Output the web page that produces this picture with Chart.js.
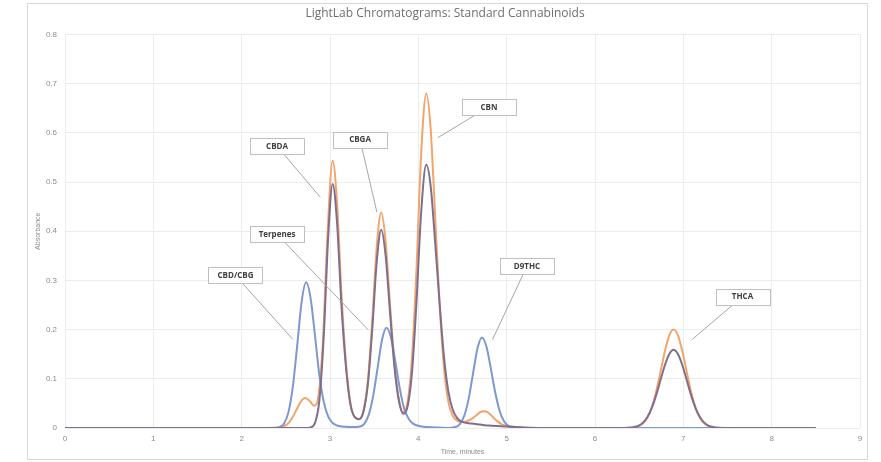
<!DOCTYPE html>
<html>
<head>
<meta charset="utf-8">
<script src="https://cdn.jsdelivr.net/npm/chart.js@4"></script>
<style>
  html, body { margin: 0; padding: 0; background: #fff; }
  #wrap { width: 881px; height: 462px; }
</style>
</head>
<body>
<div id="wrap"><canvas id="grafico"></canvas></div>
<script>
const blueTimes = [0, 2.3, 2.38, 2.43, 2.48, 2.53, 2.58, 2.63, 2.68, 2.73, 2.78, 2.83, 2.88, 2.93, 2.98, 3.03, 3.08, 3.13, 3.23, 3.29,
  3.34, 3.39, 3.44, 3.49, 3.54, 3.59, 3.64, 3.69, 3.74, 3.79, 3.84, 3.89, 3.94, 4.04, 4.2, 4.32, 4.42, 4.47, 4.52, 4.57,
  4.62, 4.67, 4.72, 4.77, 4.82, 4.87, 4.92, 4.97, 5.02, 5.12, 5.3, 8.5];
const blueValues = [0, 0, 0.0003, 0.002, 0.0093, 0.0323, 0.085, 0.170, 0.258, 0.296, 0.264, 0.188, 0.107, 0.053, 0.023, 0.010, 0.005, 0.003, 0.002, 0.002,
  0.003, 0.009, 0.0276, 0.0662, 0.1237, 0.180, 0.204, 0.184, 0.135, 0.0806, 0.039, 0.019, 0.009, 0.003, 0.001, 0.0002, 0.002, 0.0081, 0.0249, 0.0597,
  0.1116, 0.162, 0.184, 0.166, 0.1216, 0.0727, 0.0351, 0.0139, 0.0045, 0.0004, 0, 0];

const grayTimes = [0, 2.7, 2.78, 2.83, 2.88, 2.93, 2.98, 3.03, 3.08, 3.13, 3.18, 3.23, 3.28, 3.33, 3.38, 3.43, 3.48, 3.53, 3.58, 3.63,
  3.68, 3.73, 3.78, 3.83, 3.88, 3.93, 3.98, 4.03, 4.09, 4.14, 4.19, 4.24, 4.29, 4.34, 4.39, 4.44, 4.49, 4.6, 4.7, 4.8,
  5.0, 5.2, 5.4, 6.29, 6.39, 6.44, 6.49, 6.54, 6.59, 6.64, 6.69, 6.74, 6.79, 6.84, 6.89, 6.94, 6.99, 7.04, 7.09, 7.14,
  7.19, 7.24, 7.29, 7.34, 7.39, 7.49, 8.5];
const grayValues = [0, 0, 0.0012, 0.0104, 0.0565, 0.189, 0.39, 0.496, 0.417, 0.248, 0.125, 0.049, 0.022, 0.018, 0.034, 0.091, 0.205, 0.34, 0.403, 0.35,
  0.234, 0.123, 0.055, 0.029, 0.045, 0.117, 0.259, 0.433, 0.535, 0.491, 0.378, 0.255, 0.145, 0.074, 0.037, 0.020, 0.013, 0.009, 0.007, 0.005,
  0.003, 0.001, 0, 0, 0.0006, 0.0018, 0.0045, 0.0104, 0.0215, 0.0396, 0.0653, 0.0964, 0.127, 0.150, 0.159, 0.150, 0.127, 0.0964, 0.0653, 0.0396,
  0.0215, 0.0104, 0.0045, 0.0018, 0.0006, 0, 0];

const orangeTimes = [0, 2.3, 2.42, 2.52, 2.57, 2.62, 2.67, 2.72, 2.77, 2.82, 2.87, 2.92, 2.97, 3.03, 3.08, 3.13, 3.18, 3.23, 3.28, 3.33,
  3.38, 3.43, 3.48, 3.53, 3.58, 3.63, 3.68, 3.73, 3.78, 3.83, 3.88, 3.93, 3.98, 4.03, 4.09, 4.14, 4.19, 4.24, 4.29, 4.34,
  4.39, 4.44, 4.49, 4.55, 4.6, 4.65, 4.7, 4.75, 4.8, 4.85, 4.9, 4.95, 5.0, 5.1, 5.3, 6.29, 6.39, 6.44, 6.49, 6.54,
  6.59, 6.64, 6.69, 6.74, 6.79, 6.84, 6.89, 6.94, 6.99, 7.04, 7.09, 7.14, 7.19, 7.24, 7.29, 7.34, 7.39, 7.49, 8.5];
const orangeValues = [0, 0, 0.0007, 0.0083, 0.0198, 0.037, 0.0538, 0.061, 0.055, 0.045, 0.066, 0.177, 0.387, 0.543, 0.457, 0.272, 0.135, 0.052, 0.022, 0.018,
  0.036, 0.099, 0.223, 0.37, 0.438, 0.379, 0.250, 0.133, 0.058, 0.032, 0.055, 0.146, 0.327, 0.55, 0.68, 0.607, 0.432, 0.255, 0.123, 0.053,
  0.025, 0.015, 0.012, 0.014, 0.018, 0.025, 0.032, 0.034, 0.030, 0.021, 0.013, 0.0068, 0.0042, 0.002, 0, 0, 0.0003, 0.0011, 0.0034, 0.0088,
  0.0201, 0.0406, 0.072, 0.1126, 0.155, 0.1876, 0.2, 0.1876, 0.155, 0.1126, 0.072, 0.0406, 0.0201, 0.0088, 0.0034, 0.0011, 0.0003, 0, 0];

const peakNames = ['CBD/CBG', 'CBDA', 'Terpenes', 'CBGA', 'CBN', 'D9THC', 'THCA'];

// posição das caixas (centro) e ponta da linha, em coordenadas de dados
const calloutBox = [[1.93, 0.31], [2.40, 0.573], [2.40, 0.394], [3.34, 0.586], [4.80, 0.653], [5.23, 0.329], [7.67, 0.267]];
const calloutTip = [[2.58, 0.18], [2.89, 0.469], [3.43, 0.20], [3.53, 0.439], [4.22, 0.590], [4.84, 0.18], [7.10, 0.18]];

function pares(ts, vs) {
  return ts.map((t, i) => ({ x: t, y: vs[i] }));
}

const calloutPlugin = {
  id: 'callouts',
  beforeDraw(chart) {
    const ctx = chart.ctx;
    ctx.save();
    ctx.fillStyle = '#ffffff';
    ctx.fillRect(0, 0, chart.width, chart.height);
    ctx.strokeStyle = '#d9d9d9';
    ctx.lineWidth = 1;
    ctx.strokeRect(27.5, 3.5, 840, 456);
    ctx.restore();
  },
  afterDatasetsDraw(chart) {
    const ctx = chart.ctx;
    const xs = chart.scales.x, ys = chart.scales.y;
    ctx.save();
    peakNames.forEach((nome, i) => {
      const bx = xs.getPixelForValue(calloutBox[i][0]);
      const by = ys.getPixelForValue(calloutBox[i][1]);
      const tx = xs.getPixelForValue(calloutTip[i][0]);
      const ty = ys.getPixelForValue(calloutTip[i][1]);
      ctx.strokeStyle = '#a6a6a6';
      ctx.lineWidth = 1;
      ctx.beginPath();
      ctx.moveTo(bx, by);
      ctx.lineTo(tx, ty);
      ctx.stroke();
      const w = 54, h = 16;
      ctx.fillStyle = '#ffffff';
      ctx.fillRect(Math.round(bx - w / 2) + 0.5, Math.round(by - h / 2) + 0.5, w, h);
      ctx.strokeStyle = '#bfbfbf';
      ctx.strokeRect(Math.round(bx - w / 2) + 0.5, Math.round(by - h / 2) + 0.5, w, h);
      ctx.fillStyle = '#404040';
      ctx.font = 'bold 8px "Open Sans", sans-serif';
      ctx.textAlign = 'center';
      ctx.textBaseline = 'middle';
      ctx.fillText(nome, bx, by + 0.5);
    });
    ctx.restore();
  }
};

const ctxGrafico = document.getElementById('grafico').getContext('2d');
new Chart(ctxGrafico, {
  type: 'line',
  data: {
    datasets: [
      {
        label: 'Padrão C',
        data: pares(grayTimes, grayValues),
        borderColor: '#7f6e8c',
        borderWidth: 2
      },
      {
        label: 'Padrão A',
        data: pares(blueTimes, blueValues),
        borderColor: '#7d98d0',
        borderWidth: 2
      },
      {
        label: 'Padrão B',
        data: pares(orangeTimes, orangeValues),
        borderColor: '#f2a46c',
        borderWidth: 2
      }
    ]
  },
  options: {
    responsive: true,
    maintainAspectRatio: false,
    animation: false,
    elements: {
      point: { radius: 0 },
      line: { cubicInterpolationMode: 'monotone', fill: false }
    },
    layout: { padding: { left: 30, right: 21, top: 6, bottom: 4 } },
    plugins: {
      legend: { display: false },
      tooltip: { enabled: false },
      title: {
        display: true,
        text: 'LightLab Chromatograms: Standard Cannabinoids',
        color: '#6e6e6e',
        font: { family: '"Open Sans", sans-serif', size: 12, weight: 'normal' },
        padding: { top: 0, bottom: 14 }
      }
    },
    scales: {
      x: {
        type: 'linear',
        min: 0,
        max: 9,
        ticks: { stepSize: 1, color: '#8c8c8c', font: { size: 8 }, padding: 6 },
        grid: { color: '#ececec', drawTicks: false },
        border: { display: false },
        title: {
          display: true,
          text: 'Time, minutes',
          color: '#8c8c8c',
          font: { size: 7 },
          padding: { top: 0, bottom: 2 }
        },
        afterFit: s => { s.height = 30; }
      },
      y: {
        min: 0,
        max: 0.8,
        ticks: { stepSize: 0.1, color: '#8c8c8c', font: { size: 8 }, padding: 8 },
        grid: { color: '#ececec', drawTicks: false },
        border: { display: false },
        title: {
          display: true,
          text: 'Absorbance',
          color: '#8c8c8c',
          font: { size: 7 },
          padding: { top: 4, bottom: 0 }
        },
        afterFit: s => { s.width = 35; }
      }
    }
  },
  plugins: [calloutPlugin]
});
</script>
</body>
</html>
